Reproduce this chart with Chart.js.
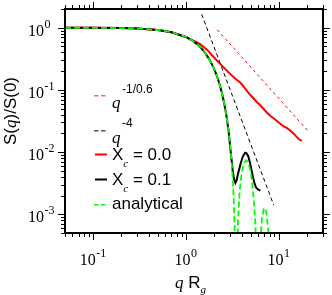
<!DOCTYPE html>
<html>
<head>
<meta charset="utf-8">
<script src="https://cdn.jsdelivr.net/npm/chart.js@4.4.0/dist/chart.umd.min.js"></script>
<style>
  html, body { margin: 0; padding: 0; background: #fff; }
  #wrap { width: 332px; height: 295px; }
</style>
</head>
<body>
<div id="wrap"><canvas id="chart" width="332" height="295"></canvas></div>
<script>
// q Rg values and S(q)/S(0)
const qAnalytical = [0.05, 0.1, 0.2, 0.3, 0.5, 0.7, 1.0, 1.15, 1.3, 1.45, 1.6, 1.8, 2.0, 2.15, 2.3, 2.45, 2.6, 2.75, 2.9, 3.0, 3.1, 3.2, 3.25, 3.35, 3.42, 3.48, 3.55, 3.65, 3.8, 4.0, 4.2, 4.45, 4.7, 5.0, 5.3, 5.6, 5.8, 5.9, 5.98, 6.1, 6.3, 6.6, 6.9, 7.1, 7.4, 7.8, 8.1, 8.3, 8.44];
const sAnalytical = [0.9992, 0.9967, 0.9868, 0.9706, 0.9195, 0.8477, 0.7106, 0.634, 0.5554, 0.4773, 0.4013, 0.3073, 0.2247, 0.1713, 0.126, 0.0887, 0.0592, 0.0368, 0.0207, 0.0131, 0.0075, 0.00371, 0.00238, 0.00069, 0.000139, 0.000001, 0.000156, 0.00082, 0.00239, 0.00471, 0.00652, 0.00742, 0.0068, 0.00477, 0.00244, 0.000734, 0.000156, 0.000031, 0.000001, 0.0000513, 0.000319, 0.000861, 0.00122, 0.00126, 0.00103, 0.000479, 0.00014, 0.0000235, 0.000001];

const qX01 = [0.05, 0.1, 0.2, 0.3, 0.5, 0.7, 1.0, 1.15, 1.3, 1.45, 1.6, 1.8, 2.0, 2.15, 2.3, 2.45, 2.6, 2.75, 2.9, 3.0, 3.1, 3.2, 3.3, 3.42, 3.52, 3.65, 3.9, 4.1, 4.35, 4.5, 4.7, 4.9, 5.1, 5.3, 5.5, 5.7, 6.0, 6.35];
const sX01 = [0.9992, 0.9967, 0.9868, 0.9706, 0.9195, 0.8477, 0.7106, 0.634, 0.5554, 0.4773, 0.4013, 0.3073, 0.2247, 0.1713, 0.126, 0.0887, 0.0592, 0.0368, 0.0207, 0.0122, 0.0078, 0.005, 0.0037, 0.0032, 0.0035, 0.0045, 0.0066, 0.0084, 0.0098, 0.0096, 0.0086, 0.0068, 0.0051, 0.0039, 0.0031, 0.0027, 0.0025, 0.0024];

const qX00 = [0.05, 0.1, 0.2, 0.3, 0.5, 0.7, 1.0, 1.1, 1.25, 1.44, 1.7, 2.0, 2.36, 2.7, 3.03, 3.4, 3.88, 4.3, 4.6, 4.98, 5.4, 5.8, 6.37, 7.0, 7.5, 8.16, 8.8, 9.5, 10.4, 11.3, 12.2, 13.3, 14.5, 15.5, 16.5, 17.2, 17.9];
const sX00 = [0.9992, 0.9967, 0.9868, 0.9706, 0.9195, 0.8477, 0.7106, 0.66, 0.6, 0.54, 0.44, 0.335, 0.26, 0.212, 0.178, 0.153, 0.13, 0.108, 0.095, 0.082, 0.072, 0.064, 0.056, 0.048, 0.043, 0.038, 0.035, 0.032, 0.0285, 0.026, 0.0245, 0.0222, 0.0198, 0.0177, 0.0162, 0.0155, 0.0154];

const qPowFlory = [2.18, 21.2];
const sPowFlory = [0.928, 0.0209];
const qPowPorod = [1.48, 8.85];
const sPowPorod = [1.65, 0.0014];

const xMajor = [0.1, 1, 10];
const xMajorExp = ["-1", "0", "1"];
const yMajor = [0.001, 0.01, 0.1, 1];
const yMajorExp = ["-3", "-2", "-1", "0"];

const SERIF = '"Liberation Serif", "Times New Roman", serif';
const SANS = '"Liberation Sans", Arial, sans-serif';

function pts(xs, ys) {
  return xs.map((x, i) => ({ x, y: ys[i] }));
}

function minorTicks(min, max) {
  const out = [];
  for (let e = Math.floor(Math.log10(min)); e <= Math.ceil(Math.log10(max)); e++) {
    for (let k = 1; k <= 9; k++) {
      const v = k * Math.pow(10, e);
      if (v >= min * 0.999 && v <= max * 1.001) out.push({ v, major: k === 1 });
    }
  }
  return out;
}

function drawRuns(ctx, x, y, runs) {
  let cx = x;
  runs.forEach((r) => {
    ctx.font = r.font;
    if (r.dx) cx += r.dx;
    ctx.fillText(r.t, cx, y + (r.dy || 0));
    cx += ctx.measureText(r.t).width;
  });
  return cx;
}

function runsWidth(ctx, runs) {
  let w = 0;
  runs.forEach((r) => {
    ctx.font = r.font;
    w += ctx.measureText(r.t).width + (r.dx || 0);
  });
  return w;
}

// legend swatches: dashed ones are two short dashes, solid ones one bar
const legendItems = [
  { color: "#ff6666", height: 1.5, dashed: true, y: 95, base: 108, runs: [
    { t: "q", font: `italic 17px ${SERIF}` },
    { t: "-1/0.6", font: `12px ${SANS}`, dy: -15, dx: 1.5 },
  ] },
  { color: "#555555", height: 1.5, dashed: true, y: 130, base: 143, runs: [
    { t: "q", font: `italic 17px ${SERIF}` },
    { t: "-4", font: `12px ${SANS}`, dy: -16, dx: 1.5 },
  ] },
  { color: "#ff0000", height: 2, dashed: false, y: 154, base: 159.5, runs: [
    { t: "X", font: `17px ${SANS}` },
    { t: "c", font: `italic 11px ${SERIF}`, dy: 7.5 },
    { t: " = 0.0", font: `17px ${SANS}` },
  ] },
  { color: "#000000", height: 2, dashed: false, y: 179, base: 184.5, runs: [
    { t: "X", font: `17px ${SANS}` },
    { t: "c", font: `italic 11px ${SERIF}`, dy: 7.5 },
    { t: " = 0.1", font: `17px ${SANS}` },
  ] },
  { color: "#00ff00", height: 1.5, dashed: true, y: 204, base: 208.5, runs: [
    { t: "analytical", font: `17px ${SANS}` },
  ] },
];

const decorPlugin = {
  id: "decor",
  afterDraw(chart) {
    const { ctx, chartArea: a, scales } = chart;
    const xs = scales.x;
    const ys = scales.y;
    ctx.save();
    ctx.strokeStyle = "#000";
    ctx.fillStyle = "#000";

    // ticks, outward on all four sides
    ctx.lineWidth = 1;
    ctx.beginPath();
    minorTicks(xs.min, xs.max).forEach((t) => {
      const px = Math.round(xs.getPixelForValue(t.v)) + 0.5;
      const len = t.major ? 7 : 4;
      ctx.moveTo(px, a.bottom); ctx.lineTo(px, a.bottom + len);
      ctx.moveTo(px, a.top); ctx.lineTo(px, a.top - len);
    });
    minorTicks(ys.min, ys.max).forEach((t) => {
      const py = Math.round(ys.getPixelForValue(t.v)) + 0.5;
      const len = t.major ? 7 : 4;
      ctx.moveTo(a.left, py); ctx.lineTo(a.left - len, py);
      ctx.moveTo(a.right, py); ctx.lineTo(a.right + len, py);
    });
    ctx.stroke();

    // frame
    ctx.lineWidth = 2;
    ctx.strokeRect(a.left, a.top, a.right - a.left, a.bottom - a.top);

    // tick labels
    ctx.textBaseline = "alphabetic";
    ctx.textAlign = "left";
    xMajor.forEach((v, i) => {
      const px = xs.getPixelForValue(v);
      const runs = [
        { t: "10", font: `16px ${SERIF}` },
        { t: xMajorExp[i], font: `12px ${SERIF}`, dy: -8, dx: 0.5 },
      ];
      drawRuns(ctx, px - runsWidth(ctx, runs) / 2, 265, runs);
    });
    yMajor.forEach((v, i) => {
      const py = ys.getPixelForValue(v);
      drawRuns(ctx, 28, py + 8, [
        { t: "10", font: `16px ${SERIF}` },
        { t: yMajorExp[i], font: `12px ${SERIF}`, dy: -8, dx: 0.5 },
      ]);
    });

    // axis titles
    ctx.save();
    ctx.translate(16, 111);
    ctx.rotate(-Math.PI / 2);
    const yTitle = [
      { t: "S(", font: `17px ${SANS}` },
      { t: "q", font: `italic 17px ${SERIF}` },
      { t: ")/S(0)", font: `17px ${SANS}` },
    ];
    drawRuns(ctx, -runsWidth(ctx, yTitle) / 2, 0, yTitle);
    ctx.restore();

    drawRuns(ctx, 175, 288, [
      { t: "q", font: `italic 17px ${SERIF}` },
      { t: " R", font: `17px ${SANS}` },
      { t: "g", font: `italic 11px ${SERIF}`, dy: 5 },
    ]);

    // legend
    legendItems.forEach((item) => {
      ctx.fillStyle = item.color;
      if (item.dashed) {
        ctx.fillRect(94, item.y, 4.5, item.height);
        ctx.fillRect(101, item.y, 4.5, item.height);
      } else {
        ctx.fillRect(95, item.y - 0.5, 12, item.height);
      }
      ctx.fillStyle = "#000";
      drawRuns(ctx, 112, item.base, item.runs);
    });

    ctx.restore();
  },
};

const lineDefaults = { showLine: true, pointRadius: 0, pointHoverRadius: 0, fill: false, tension: 0, clip: 0 };

new Chart(document.getElementById("chart").getContext("2d"), {
  type: "scatter",
  data: {
    datasets: [
      { ...lineDefaults, label: "analytical", data: pts(qAnalytical, sAnalytical), borderColor: "#00ff00", borderWidth: 1.8, borderDash: [6, 3], order: 0 },
      { ...lineDefaults, label: "xc = 0.1", data: pts(qX01, sX01), borderColor: "#000000", borderWidth: 2, order: 1 },
      { ...lineDefaults, label: "xc = 0.0", data: pts(qX00, sX00), borderColor: "#ff0000", borderWidth: 2, order: 2 },
      { ...lineDefaults, label: "q^-4", data: pts(qPowPorod, sPowPorod), borderColor: "#000000", borderWidth: 1, borderDash: [4, 3], order: 3 },
      { ...lineDefaults, label: "q^-1/0.6", data: pts(qPowFlory, sPowFlory), borderColor: "#ff0000", borderWidth: 1, borderDash: [3, 3], order: 4 },
    ],
  },
  options: {
    responsive: false,
    animation: false,
    devicePixelRatio: 1,
    layout: { padding: { left: 65, right: 9, top: 9, bottom: 62 } },
    plugins: { legend: { display: false }, tooltip: { enabled: false } },
    scales: {
      x: { type: "logarithmic", min: 0.05, max: 30, display: false },
      y: { type: "logarithmic", min: 0.0005, max: 2, display: false },
    },
  },
  plugins: [decorPlugin],
});
</script>
</body>
</html>
